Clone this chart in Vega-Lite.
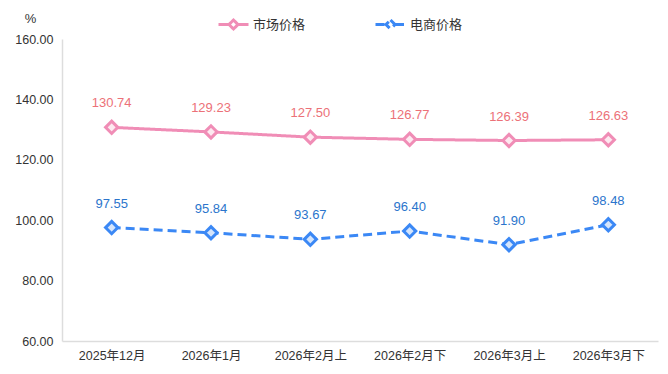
{
  "$schema": "https://vega.github.io/schema/vega-lite/v6.json",
  "autosize": "none",
  "width": 596,
  "height": 302,
  "padding": {"left": 62, "top": 39, "right": 10, "bottom": 33},
  "background": "white",
  "config": {
    "font": "Liberation Sans, Noto Sans CJK SC, sans-serif",
    "view": {"stroke": null}
  },
  "data": {
    "values": [
      {"period": "2025年12月", "series": "市场价格", "value": 130.74},
      {"period": "2026年1月", "series": "市场价格", "value": 129.23},
      {"period": "2026年2月上", "series": "市场价格", "value": 127.50},
      {"period": "2026年2月下", "series": "市场价格", "value": 126.77},
      {"period": "2026年3月上", "series": "市场价格", "value": 126.39},
      {"period": "2026年3月下", "series": "市场价格", "value": 126.63},
      {"period": "2025年12月", "series": "电商价格", "value": 97.55},
      {"period": "2026年1月", "series": "电商价格", "value": 95.84},
      {"period": "2026年2月上", "series": "电商价格", "value": 93.67},
      {"period": "2026年2月下", "series": "电商价格", "value": 96.40},
      {"period": "2026年3月上", "series": "电商价格", "value": 91.90},
      {"period": "2026年3月下", "series": "电商价格", "value": 98.48}
    ]
  },
  "encoding": {
    "x": {
      "field": "period", "type": "ordinal", "sort": null,
      "scale": {"type": "point", "padding": 0.5},
      "axis": {
        "title": null, "labelAngle": 0, "ticks": false, "grid": false,
        "domainColor": "#dddddd", "domainWidth": 1.5, "labelColor": "#333333",
        "labelFontSize": 12.5, "labelPadding": 8
      }
    },
    "y": {
      "field": "value", "type": "quantitative",
      "scale": {"domain": [60, 160], "nice": false, "zero": false},
      "axis": {
        "title": "%", "titleAngle": 0, "titleX": -32, "titleY": -21,
        "titleAlign": "center", "titleBaseline": "middle", "titleFontWeight": "normal",
        "titleFontSize": 13, "titleColor": "#333333",
        "values": [60, 80, 100, 120, 140, 160], "format": ".2f",
        "ticks": false, "grid": false, "domainColor": "#dddddd", "domainWidth": 1.5,
        "labelColor": "#333333", "labelFontSize": 12.5, "labelPadding": 9
      }
    }
  },
  "layer": [
    {
      "mark": {"type": "line", "strokeWidth": 3},
      "encoding": {
        "color": {
          "field": "series", "type": "nominal",
          "scale": {"domain": ["市场价格", "电商价格"], "range": ["#f08db6", "#3b88f5"]},
          "legend": {
            "title": null, "orient": "none", "direction": "horizontal",
            "legendX": 155, "legendY": -31,
            "symbolType": "M-1,0L-0.3,0M0.3,0L1,0M0,-0.3L0.3,0L0,0.3L-0.3,0Z",
            "symbolSize": 900, "symbolStrokeWidth": 3, "symbolFillColor": "white",
            "labelFontSize": 13, "labelColor": "#333333", "labelOffset": 3,
            "columnPadding": 63
          }
        },
        "strokeDash": {
          "field": "series", "type": "nominal",
          "scale": {"domain": ["市场价格", "电商价格"], "range": [[1, 0], [9, 5]]},
          "legend": null
        }
      }
    },
    {
      "mark": {"type": "point", "shape": "diamond", "size": 150, "strokeWidth": 3, "opacity": 1, "filled": false},
      "encoding": {
        "stroke": {
          "field": "series", "type": "nominal",
          "scale": {"domain": ["市场价格", "电商价格"], "range": ["#f08db6", "#3b88f5"]},
          "legend": null
        },
        "fill": {
          "field": "series", "type": "nominal",
          "scale": {"domain": ["市场价格", "电商价格"], "range": ["#fde9f0", "#d5e5fc"]},
          "legend": null
        }
      }
    },
    {
      "mark": {"type": "text", "baseline": "bottom", "dy": -17, "fontSize": 13},
      "encoding": {
        "text": {"field": "value", "type": "quantitative", "format": ".2f"},
        "fill": {
          "field": "series", "type": "nominal",
          "scale": {"domain": ["市场价格", "电商价格"], "range": ["#ec7178", "#2b75cc"]},
          "legend": null
        }
      }
    }
  ],
  "resolve": {"scale": {"fill": "independent"}}
}
